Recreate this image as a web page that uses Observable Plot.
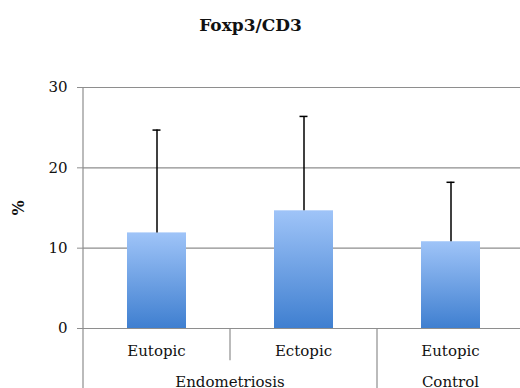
<!DOCTYPE html>
<html>
<head>
<meta charset="utf-8">
<script src="https://cdn.jsdelivr.net/npm/d3@7"></script>
<script src="https://cdn.jsdelivr.net/npm/@observablehq/plot@0.6"></script>
<style>
  html, body { margin: 0; padding: 0; background: #fff; overflow: hidden; }
  #chart { width: 520px; height: 388px; }
</style>
</head>
<body>
<div id="chart"></div>
<script>
// Data
const keys = ["Endo-Eutopic", "Endo-Ectopic", "Ctrl-Eutopic"];
const subLabels = ["Eutopic", "Ectopic", "Eutopic"];
const groups = ["Endometriosis", "Endometriosis", "Control"];
const values = [11.9, 14.65, 10.8];
const errors = [12.8, 11.75, 7.4];
const yTicks = [0, 10, 20, 30];
const title = "Foxp3/CD3";
const yLabel = "%";

const data = keys.map((k, i) => ({
  key: k, sub: subLabels[i], group: groups[i],
  value: values[i], top: values[i] + errors[i]
}));

const font = "'DejaVu Serif', serif";
const grid = "#8e8e8e";
const ink = "#111";

// gradient definitions
const defs = () => {
  const ns = "http://www.w3.org/2000/svg";
  const d = document.createElementNS(ns, "defs");
  d.innerHTML = `<linearGradient id="barGrad" x1="0" y1="0" x2="0" y2="1">
      <stop offset="0%" stop-color="#9fc4f8"/>
      <stop offset="100%" stop-color="#3f7fd0"/>
    </linearGradient>`;
  return d;
};

// y axis line plus category dividers and group labels, all placed through the x/y scales
const categoryAxis = (index, scales) => {
  const ns = "http://www.w3.org/2000/svg";
  const g = document.createElementNS(ns, "g");
  const x = scales.x, y = scales.y;
  const bw = x.bandwidth();
  const cx = k => x(k) + bw / 2;
  const y0 = y(0);
  const yShortEnd = y(-4);
  const yLongEnd = y(-8);
  const line = (xp, y1, y2) => {
    const l = document.createElementNS(ns, "line");
    l.setAttribute("x1", xp); l.setAttribute("x2", xp);
    l.setAttribute("y1", y1); l.setAttribute("y2", y2);
    l.setAttribute("stroke", grid); l.setAttribute("stroke-width", 1.2);
    g.appendChild(l);
  };
  const text = (xp, yp, s) => {
    const t = document.createElementNS(ns, "text");
    t.setAttribute("x", xp); t.setAttribute("y", yp);
    t.setAttribute("text-anchor", "middle");
    t.style.fontFamily = font;
    t.style.fontSize = "15px";
    t.setAttribute("fill", ink);
    t.textContent = s;
    g.appendChild(t);
  };
  // y axis line (full height, extending through the category area)
  line(x.range()[0], y(30), yLongEnd);
  for (let i = 0; i < data.length - 1; i++) {
    const mid = (cx(data[i].key) + cx(data[i + 1].key)) / 2;
    const sameGroup = data[i].group === data[i + 1].group;
    line(mid, y0, sameGroup ? yShortEnd : yLongEnd);
  }
  // sub labels
  data.forEach(d => text(cx(d.key), y(-3.5), d.sub));
  // group labels
  const uniq = [...new Set(groups)];
  uniq.forEach(gn => {
    const members = data.filter(d => d.group === gn).map(d => cx(d.key));
    text(d3.mean(members), y(-7.4), gn);
  });
  return g;
};

const plot = Plot.plot({
  width: 520,
  height: 388,
  marginTop: 87,
  marginBottom: 60,
  marginLeft: 83,
  marginRight: -4,
  style: { fontFamily: font, fontSize: "15px", background: "#fff", overflow: "visible" },
  x: { domain: keys, paddingInner: 0.6, paddingOuter: 0.3, axis: null },
  y: { domain: [0, 30], ticks: yTicks, label: null, axis: null },
  marks: [
    defs,
    Plot.ruleY(yTicks, { stroke: grid, strokeWidth: 1.2, strokeOpacity: 1 }),
    Plot.axisY({ ticks: yTicks, tickSize: 6, tickPadding: 10, stroke: grid, strokeOpacity: 1, fontSize: 15, fill: ink, label: null, tickFormat: d => String(d) }),
    Plot.barY(data, { x: "key", y: "value", fill: "url(#barGrad)" }),
    Plot.ruleX(data, { x: "key", y1: "value", y2: "top", stroke: "#000", strokeWidth: 1.5 }),
    Plot.tickY(data, { x: "key", y: "top", stroke: "#000", strokeWidth: 1.5, insetLeft: 25.5, insetRight: 25.5 }),
    categoryAxis,
    Plot.text([title], { text: d => d, frameAnchor: "top-left", textAnchor: "middle", dx: 167, dy: -69, fontSize: 17, fontWeight: "bold", fill: ink }),
    Plot.text([yLabel], { text: d => d, frameAnchor: "left", textAnchor: "middle", dx: -65, rotate: -90, fontSize: 16, fontWeight: "bold", fill: ink })
  ]
});
document.getElementById("chart").appendChild(plot);
</script>
</body>
</html>
